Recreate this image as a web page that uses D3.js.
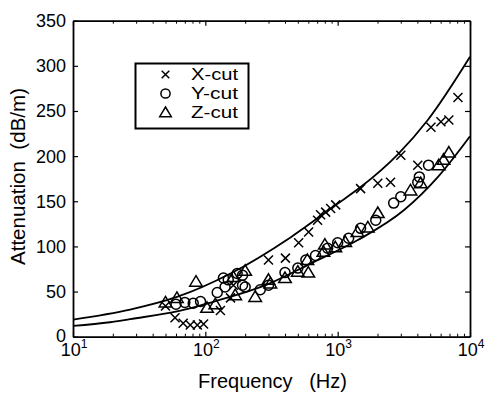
<!DOCTYPE html>
<html><head><meta charset="utf-8">
<script src="https://cdn.jsdelivr.net/npm/d3@7"></script>
<style>
body{margin:0;background:#fff}
text{font-family:"Liberation Sans",Arial,Helvetica,sans-serif;fill:#000}
</style>
</head><body>
<svg id="c" width="489" height="396"></svg>
<script>
// ---- data ----
const yTicks = [0, 50, 100, 150, 200, 250, 300, 350];
const xMajor = [10, 100, 1000, 10000];
const xExp = ["1", "2", "3", "4"];

const xcutFreq = [50, 59, 68, 77, 87, 97, 130, 155, 163, 300, 403, 507, 603, 705, 743, 811, 885, 966, 1490, 2010, 2510, 3000, 4030, 5070, 6030, 6920, 8110];
const xcutVal  = [34, 21, 15, 13, 13, 14, 29, 43, 57, 85, 87, 104, 116, 129, 135, 138, 142, 146, 164, 170, 171, 201, 190, 232, 238, 240, 265];

const ycutFreq = [60, 70, 81, 92, 123, 137, 141, 149, 174, 191, 191, 200, 260, 300, 400, 500, 575, 680, 840, 1000, 1210, 1490, 1940, 2650, 3000, 4030, 4140, 4860];
const ycutVal  = [36, 38, 37, 39, 49, 65, 55, 63, 70, 68, 57, 55, 52, 57, 71, 76, 85, 90, 98, 104, 109, 120, 129, 148, 155, 171, 177, 190];

const zcutFreq = [50, 61, 85, 103, 119, 163, 168, 200, 238, 300, 310, 400, 500, 590, 600, 780, 800, 960, 1140, 1410, 1690, 2010, 3550, 4240, 5800, 6310, 6920];
const zcutVal  = [38, 43, 61, 32, 36, 66, 46, 73, 44, 63, 59, 65, 72, 85, 71, 94, 102, 99, 105, 116, 121, 137, 162, 170, 190, 196, 204];

const upperFreq = [10, 27, 61, 155, 440, 970, 1500, 2850, 4800, 10000];
const upperVal  = [19, 30, 44, 70, 110, 146, 166, 202, 240, 310];
const lowerFreq = [10, 19, 27, 61, 123, 295, 624, 1420, 3160, 5730, 10000];
const lowerVal  = [12, 16, 19.5, 28, 40, 58, 81, 107, 140, 177, 222];

const legendLabels = ["X-cut", "Y-cut", "Z-cut"];

// ---- layout ----
const L = 73, R = 470, T = 20.7, B = 336.7;
const svg = d3.select("#c");
const x = d3.scaleLog().domain([10, 10000]).range([L, R]);
const y = d3.scaleLinear().domain([0, 350]).range([B, T]);

const minors = [];
for (let d = 10; d < 10000; d *= 10) for (let k = 2; k <= 9; k++) minors.push(d * k);

function styleAxis(g) {
  g.select(".domain").attr("stroke", "#000").attr("stroke-width", 1.8);
  g.selectAll(".tick line").attr("stroke", "#000").attr("stroke-width", 1.2);
  g.selectAll(".tick text").remove();
}

// bottom
svg.append("g").attr("transform", `translate(0,${B})`)
  .call(d3.axisBottom(x).tickValues(xMajor).tickSizeInner(-5).tickSizeOuter(0).tickFormat(""))
  .call(styleAxis);
svg.append("g").attr("transform", `translate(0,${B})`)
  .call(d3.axisBottom(x).tickValues(minors).tickSizeInner(-3).tickSizeOuter(0).tickFormat(""))
  .call(g => { g.select(".domain").remove(); g.selectAll(".tick line").attr("stroke", "#000").attr("stroke-width", 1); });
// top
svg.append("g").attr("transform", `translate(0,${T})`)
  .call(d3.axisTop(x).tickValues(xMajor).tickSizeInner(-5).tickSizeOuter(0).tickFormat(""))
  .call(styleAxis);
svg.append("g").attr("transform", `translate(0,${T})`)
  .call(d3.axisTop(x).tickValues(minors).tickSizeInner(-3).tickSizeOuter(0).tickFormat(""))
  .call(g => { g.select(".domain").remove(); g.selectAll(".tick line").attr("stroke", "#000").attr("stroke-width", 1); });
// left
svg.append("g").attr("transform", `translate(${L},0)`)
  .call(d3.axisLeft(y).tickValues(yTicks).tickSizeInner(-5).tickSizeOuter(0).tickFormat(""))
  .call(styleAxis);
// right
svg.append("g").attr("transform", `translate(${R},0)`)
  .call(d3.axisRight(y).tickValues(yTicks).tickSizeInner(-5).tickSizeOuter(0).tickFormat(""))
  .call(styleAxis);

// y tick labels
svg.append("g").selectAll("text").data(yTicks).join("text")
  .attr("x", 66).attr("y", d => y(d)).attr("dy", d => d === 0 ? "0.28em" : "0.36em")
  .attr("text-anchor", "end").attr("font-size", 18).text(d => d);

// x tick labels with superscript
const xl = svg.append("g").selectAll("text").data(xMajor).join("text")
  .attr("x", d => x(d) + 1).attr("y", 356).attr("text-anchor", "middle").attr("font-size", 18);
xl.append("tspan").text("10");
xl.append("tspan").attr("font-size", 12).attr("dy", -8.5).text((d, i) => xExp[i]);

// axis titles
svg.append("text").attr("x", 198).attr("y", 388).attr("font-size", 20)
  .attr("textLength", 149).attr("lengthAdjust", "spacingAndGlyphs")
  .style("white-space", "pre").text("Frequency   (Hz)");
svg.append("text").attr("transform", "translate(25,265) rotate(-90)").attr("font-size", 20)
  .attr("textLength", 177).attr("lengthAdjust", "spacingAndGlyphs")
  .style("white-space", "pre").text("Attenuation  (dB/m)");

// fitted curves
svg.append("clipPath").attr("id", "clp").append("rect")
  .attr("x", L).attr("y", T).attr("width", R - L).attr("height", B - T);
const line = d3.line().x(d => x(d[0])).y(d => y(d[1])).curve(d3.curveMonotoneX);
[[upperFreq, upperVal], [lowerFreq, lowerVal]].forEach(([f, v]) => {
  svg.append("path").datum(f.map((ff, i) => [ff, v[i]]))
    .attr("d", line).attr("fill", "none").attr("stroke", "#000").attr("stroke-width", 1.8)
    .attr("clip-path", "url(#clp)");
});

// marker drawers
function drawX(g, cx, cy, s) {
  g.append("path").attr("d", `M${cx - s},${cy - s}L${cx + s},${cy + s}M${cx - s},${cy + s}L${cx + s},${cy - s}`)
    .attr("stroke", "#000").attr("stroke-width", 1.5).attr("fill", "none");
}
function drawO(g, cx, cy, r) {
  g.append("circle").attr("cx", cx).attr("cy", cy).attr("r", r)
    .attr("stroke", "#000").attr("stroke-width", 1.5).attr("fill", "none");
}
function drawT(g, cx, cy, s) {
  g.append("path").attr("d", `M${cx},${cy - s}L${cx + s * 1.05},${cy + s * 0.75}L${cx - s * 1.05},${cy + s * 0.75}Z`)
    .attr("stroke", "#000").attr("stroke-width", 1.5).attr("fill", "none");
}

const marks = svg.append("g");
xcutFreq.forEach((f, i) => drawX(marks, x(f), y(xcutVal[i]), 4.5));
ycutFreq.forEach((f, i) => drawO(marks, x(f), y(ycutVal[i]), 5));
zcutFreq.forEach((f, i) => drawT(marks, x(f), y(zcutVal[i]), 6));

// legend
const lg = svg.append("g");
lg.append("rect").attr("x", 135.5).attr("y", 63.5).attr("width", 113).attr("height", 65)
  .attr("fill", "#fff").attr("stroke", "#000").attr("stroke-width", 2);
const rowsY = [74.5, 93.5, 112.5];
drawX(lg, 165.5, rowsY[0], 3.8);
drawO(lg, 165.5, rowsY[1], 4.6);
drawT(lg, 165.5, rowsY[2], 5.5);
lg.selectAll("text").data(legendLabels).join("text")
  .attr("x", 191).attr("y", (d, i) => rowsY[i] + 5.5).attr("font-size", 16)
  .attr("textLength", 47).attr("lengthAdjust", "spacingAndGlyphs").text(d => d);
</script>
</body></html>
